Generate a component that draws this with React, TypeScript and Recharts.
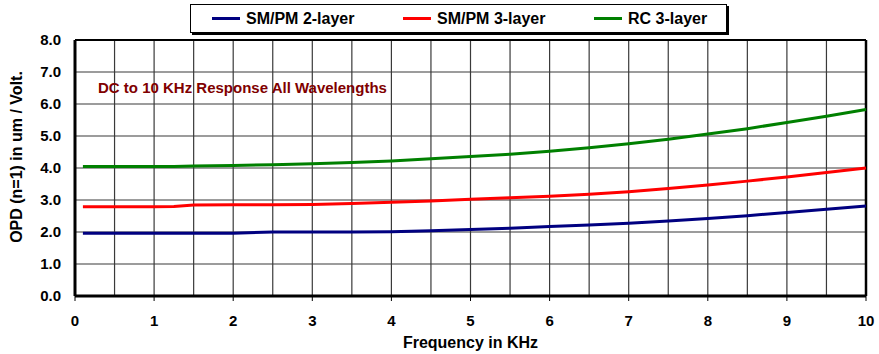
import { LineChart, Line, XAxis, YAxis, CartesianGrid, ReferenceLine, Label } from 'recharts'

const FONT = '"Liberation Sans", Arial, sans-serif'

// frequency in KHz
const freq = [0.1, 1, 1.25, 1.5, 2, 2.5, 3, 3.5, 4, 4.5, 5, 5.5, 6, 6.5, 7, 7.5, 8, 8.5, 9, 9.5, 10]
const sm2 = [1.96, 1.96, 1.96, 1.96, 1.96, 2.0, 2.0, 2.0, 2.01, 2.04, 2.08, 2.12, 2.17, 2.22, 2.27, 2.34, 2.42, 2.51, 2.61, 2.71, 2.81]
const sm3 = [2.79, 2.79, 2.8, 2.84, 2.85, 2.85, 2.86, 2.89, 2.93, 2.97, 3.02, 3.07, 3.12, 3.18, 3.26, 3.36, 3.47, 3.59, 3.72, 3.86, 4.0]
const rc3 = [4.05, 4.05, 4.05, 4.06, 4.08, 4.1, 4.13, 4.17, 4.22, 4.29, 4.36, 4.43, 4.52, 4.63, 4.76, 4.9, 5.06, 5.23, 5.42, 5.62, 5.83]

const xTicks = [0, 1, 2, 3, 4, 5, 6, 7, 8, 9, 10]
const xGrid = [0, 0.5, 1, 1.5, 2, 2.5, 3, 3.5, 4, 4.5, 5, 5.5, 6, 6.5, 7, 7.5, 8, 8.5, 9, 9.5, 10]
const yTicks = [0, 1, 2, 3, 4, 5, 6, 7, 8]

const series = [
  { key: 'sm2', name: 'SM/PM 2-layer', color: '#000080' },
  { key: 'sm3', name: 'SM/PM 3-layer', color: '#ff0000' },
  { key: 'rc3', name: 'RC 3-layer', color: '#008000' },
]

const data = freq.map((f, i) => ({ f, sm2: sm2[i], sm3: sm3[i], rc3: rc3[i] }))

function YTitle({ viewBox }: any) {
  const cx = 16
  const cy = viewBox.y + viewBox.height / 2 - 11
  return (
    <text
      x={cx}
      y={cy}
      transform={`rotate(-90 ${cx} ${cy})`}
      textAnchor="middle"
      dominantBaseline="central"
      style={{ fill: '#000', fontSize: 16, fontWeight: 700, fontFamily: FONT }}
    >
      OPD (n=1) in um / Volt.
    </text>
  )
}

export default function App() {
  return (
    <div style={{ position: 'absolute', left: 0, top: 0, width: 879, height: 354, background: '#fff', fontFamily: FONT }}>
      <LineChart width={879} height={354} data={data} margin={{ top: 40, right: 13, bottom: 0, left: 0 }}>
        <CartesianGrid stroke="#3a3a3a" strokeWidth={1.2} verticalValues={xGrid} horizontalValues={yTicks} />
        <XAxis
          dataKey="f"
          type="number"
          domain={[0, 10]}
          ticks={xTicks}
          interval={0}
          height={58}
          tickSize={5}
          tickMargin={14}
          axisLine={{ stroke: '#000', strokeWidth: 3 }}
          tickLine={{ stroke: '#000', strokeWidth: 1 }}
          tick={{ fill: '#000', fontSize: 15, fontWeight: 700, fontFamily: FONT }}
        >
          <Label
            value="Frequency in KHz"
            position="insideBottom"
            offset={6}
            style={{ fill: '#000', fontSize: 16, fontWeight: 700, fontFamily: FONT }}
          />
        </XAxis>
        <YAxis
          type="number"
          domain={[0, 8]}
          ticks={yTicks}
          interval={0}
          width={75}
          tickSize={0}
          tickMargin={14}
          tickFormatter={(v) => Number(v).toFixed(1)}
          axisLine={{ stroke: '#000', strokeWidth: 3 }}
          tickLine={false}
          tick={{ fill: '#000', fontSize: 15, fontWeight: 700, fontFamily: FONT }}
        >
          <Label content={YTitle} />
        </YAxis>
        <ReferenceLine x={10} stroke="#000" strokeWidth={2.5} />
        <ReferenceLine y={8} stroke="#000" strokeWidth={2} />
        {series.map((s) => (
          <Line
            key={s.key}
            type="linear"
            dataKey={s.key}
            name={s.name}
            stroke={s.color}
            strokeWidth={3}
            dot={false}
            isAnimationActive={false}
          />
        ))}
      </LineChart>

      <div
        style={{
          position: 'absolute',
          left: 190,
          top: 4,
          width: 535,
          height: 27,
          border: '1px solid #000',
          boxShadow: '2px 2px 0 #000',
          background: '#fff',
        }}
      >
        {series.map((s, i) => (
          <div
            key={s.key}
            style={{
              position: 'absolute',
              left: 21 + i * 191,
              top: 0,
              height: 27,
              display: 'flex',
              alignItems: 'center',
              whiteSpace: 'nowrap',
            }}
          >
            <span style={{ display: 'inline-block', width: 28, height: 3, background: s.color, marginRight: 6 }} />
            <span style={{ fontSize: 16, fontWeight: 700, color: '#000' }}>{s.name}</span>
          </div>
        ))}
      </div>

      <div
        style={{
          position: 'absolute',
          left: 98,
          top: 80,
          fontSize: 15,
          lineHeight: '15px',
          fontWeight: 700,
          color: '#800000',
          whiteSpace: 'nowrap',
        }}
      >
        DC to 10 KHz Response All Wavelengths
      </div>
    </div>
  )
}
